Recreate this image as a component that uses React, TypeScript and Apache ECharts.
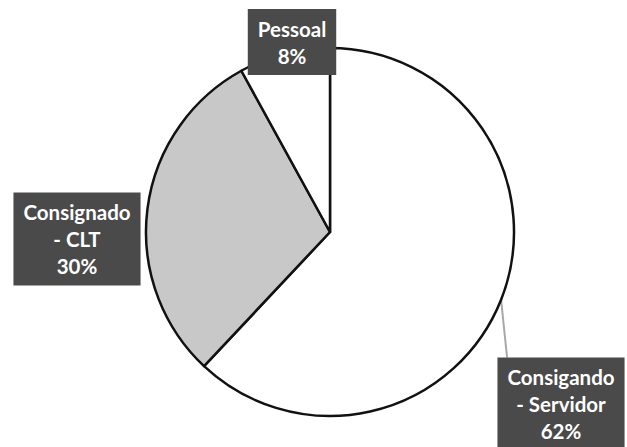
import React, { useEffect, useRef } from "react";
import * as echarts from "echarts";

const categories = ["Consigando\n- Servidor", "Consignado\n- CLT", "Pessoal"];
const values = [62, 30, 8];
const sliceColors = ["#ffffff", "#c8c8c8", "#ffffff"];

export default function App() {
  const ref = useRef<HTMLDivElement>(null);
  useEffect(() => {
    if (!ref.current) return;
    const chart = echarts.init(ref.current, null, { renderer: "svg" });
    const labelPos = [
      [561, 404],
      [77, 239],
      [292, 42],
    ];
    chart.setOption({
      animation: false,
      backgroundColor: "#ffffff",
      series: [
        {
          type: "pie",
          center: [330, 232],
          radius: 184,
          startAngle: 90,
          clockwise: true,
          avoidLabelOverlap: false,
          itemStyle: { borderColor: "#111111", borderWidth: 2.5 },
          label: {
            show: true,
            position: "outside",
            formatter: "{b}\n{d}%",
            color: "#ffffff",
            backgroundColor: "#4a4a4a",
            fontFamily: "Lato",
            fontWeight: "bold",
            fontSize: 20.5,
            lineHeight: 27,
            padding: [6, 10, 6, 10],
            align: "center",
          },
          labelLine: {
            show: true,
            length: 3,
            length2: 0,
            lineStyle: { color: "#a8a8a8", width: 2 },
          },
          labelLayout: (params: any) => {
            const p = labelPos[params.dataIndex];
            const res: any = { x: p[0], y: p[1], align: "center", verticalAlign: "middle" };
            if (params.dataIndex === 0 && params.labelLinePoints) {
              const a = params.labelLinePoints[0];
              const top = p[1] - params.labelRect.height / 2;
              res.labelLinePoints = [
                [a[0], a[1]],
                [a[0] + 3, (a[1] + top) / 2],
                [a[0] + 6, top],
              ];
            }
            return res;
          },
          data: categories.map((name, i) => ({
            name,
            value: values[i],
            itemStyle: { color: sliceColors[i] },
            labelLine: { show: i === 0 },
          })),
        },
      ],
    });
    return () => chart.dispose();
  }, []);
  return (
    <div
      ref={ref}
      style={{ position: "absolute", left: 0, top: 0, width: 627, height: 447 }}
    />
  );
}
